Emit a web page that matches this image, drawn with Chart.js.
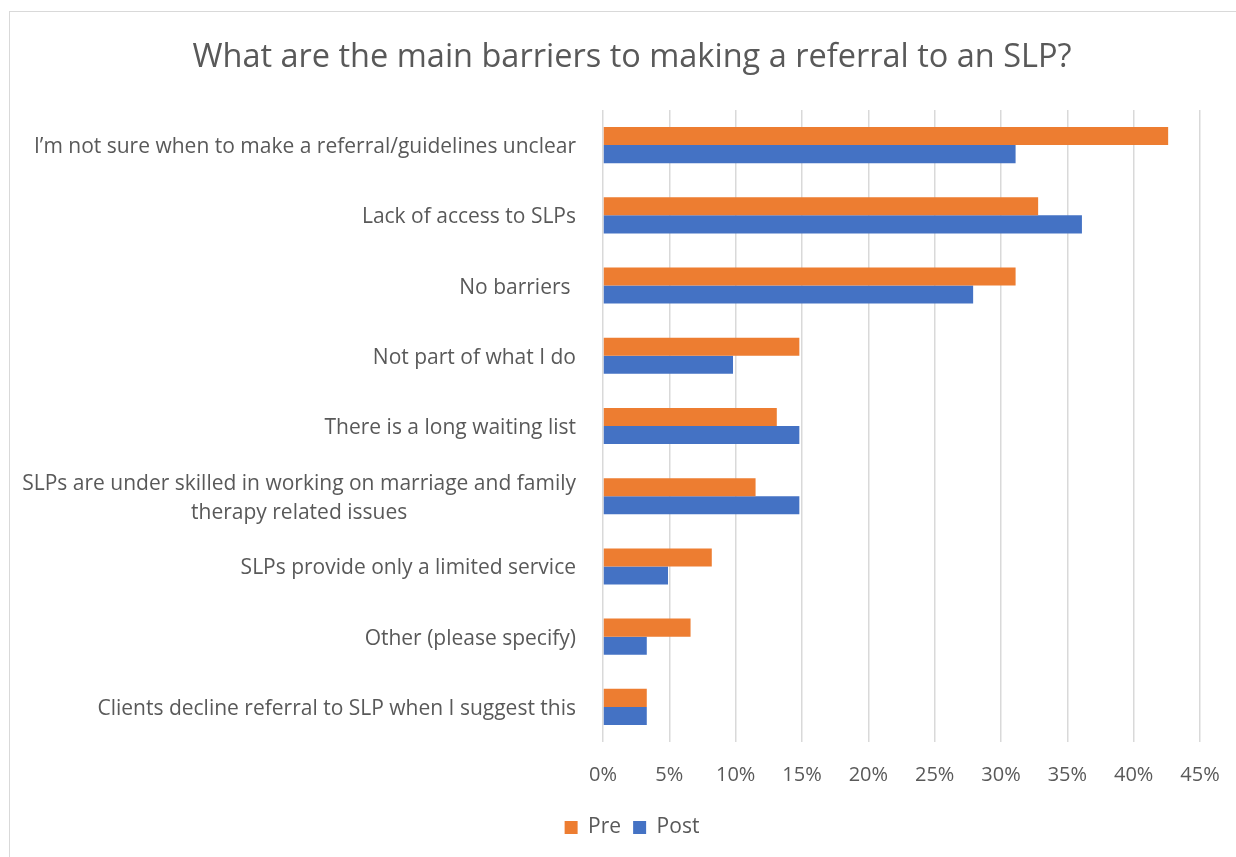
<!DOCTYPE html>
<html>
<head>
<meta charset="utf-8">
<script src="https://cdn.jsdelivr.net/npm/chart.js@4.4.0/dist/chart.umd.min.js"></script>
<style>
    html, body { margin: 0; padding: 0; background: #fff; overflow: hidden; }
    #frame {
        position: absolute;
        left: 9px;
        top: 11px;
        width: 1244px;
        height: 846px;
        border: 1px solid #d9d9d9;
        background: #fff;
    }
    #barriersChart { display: block; }
</style>
</head>
<body>
<div id="frame">
    <canvas id="barriersChart" width="1244" height="846"></canvas>
</div>
<script>
const categories = [
    'I\u2019m not sure when to make a referral/guidelines unclear',
    'Lack of access to SLPs',
    'No barriers ',
    'Not part of what I do',
    'There is a long waiting list',
    ['SLPs are under skilled in working on marriage and family', 'therapy related issues'],
    'SLPs provide only a limited service',
    'Other (please specify)',
    'Clients decline referral to SLP when I suggest this'
];
const preValues = [42.6, 32.8, 31.1, 14.8, 13.1, 11.5, 8.2, 6.6, 3.3];
const postValues = [31.1, 36.1, 27.9, 9.8, 14.8, 14.8, 4.9, 3.3, 3.3];
const xTicks = [0, 5, 10, 15, 20, 25, 30, 35, 40, 45];

const textColor = '#595959';
const fontFamily = '"Open Sans", "Noto Sans", sans-serif';
const labelFontSize = 21;

// category labels: block right-aligned to the axis, wrapped lines centred inside it
const categoryLabels = {
    id: 'categoryLabels',
    afterDraw(chart) {
        const ctx = chart.ctx;
        const yScale = chart.scales.y;
        const right = chart.chartArea.left - 27;
        const lineHeight = labelFontSize * 1.38;
        ctx.save();
        ctx.font = `${labelFontSize}px ${fontFamily}`;
        ctx.fillStyle = textColor;
        ctx.textBaseline = 'middle';
        ctx.textAlign = 'center';
        categories.forEach((label, i) => {
            const lines = Array.isArray(label) ? label : [label];
            const widths = lines.map(l => ctx.measureText(l).width);
            const blockWidth = Math.max(...widths);
            const cx = right - blockWidth / 2;
            const y0 = yScale.getPixelForTick(i) + 2 - (lines.length - 1) * lineHeight / 2;
            lines.forEach((line, j) => {
                ctx.fillText(line, cx, y0 + j * lineHeight);
            });
        });
        ctx.restore();
    }
};

new Chart(document.getElementById('barriersChart'), {
    type: 'bar',
    data: {
        labels: categories,
        datasets: [
            {
                label: 'Pre',
                data: preValues,
                backgroundColor: '#ED7D31',
                categoryPercentage: 0.514,
                barPercentage: 1.0
            },
            {
                label: 'Post',
                data: postValues,
                backgroundColor: '#4472C4',
                categoryPercentage: 0.514,
                barPercentage: 1.0
            }
        ]
    },
    options: {
        indexAxis: 'y',
        responsive: false,
        animation: false,
        layout: {
            // equal side padding keeps title and legend centred on the frame
            padding: { left: 54, right: 54, top: 0, bottom: 10 }
        },
        plugins: {
            title: {
                display: true,
                text: 'What are the main barriers to making a referral to an SLP?',
                color: textColor,
                font: { family: fontFamily, size: 32.5, weight: 'normal', lineHeight: 1.2 },
                padding: { top: 26.5, bottom: 32.5 }
            },
            legend: {
                position: 'bottom',
                labels: {
                    color: textColor,
                    font: { family: fontFamily, size: 21 },
                    boxWidth: 13,
                    boxHeight: 13,
                    padding: 12
                }
            },
            tooltip: { enabled: false }
        },
        scales: {
            x: {
                min: 0,
                max: 45,
                afterBuildTicks(scale) {
                    scale.ticks = xTicks.map(v => ({ value: v }));
                },
                afterFit(scale) {
                    scale.height = 63;
                },
                ticks: {
                    color: textColor,
                    font: { family: fontFamily, size: 20 },
                    padding: 21,
                    callback: v => v + '%'
                },
                grid: {
                    color: '#d9d9d9',
                    lineWidth: 1.5,
                    drawTicks: false
                },
                border: { display: false }
            },
            y: {
                ticks: { display: false },
                grid: { display: false },
                border: { display: false },
                afterFit(scale) {
                    scale.width = 539;
                }
            }
        }
    },
    plugins: [categoryLabels]
});
</script>
</body>
</html>
